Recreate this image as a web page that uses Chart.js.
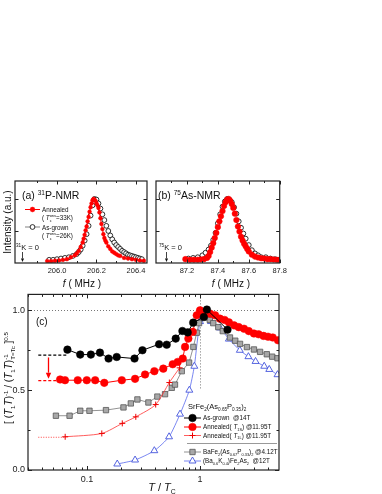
<!DOCTYPE html>
<html>
<head>
<meta charset="utf-8">
<script src="https://cdn.jsdelivr.net/npm/chart.js@4.4.0/dist/chart.umd.min.js"></script>
<style>
  html, body { margin: 0; padding: 0; background: #fff; }
  #wrap { position: relative; width: 382px; height: 494px; overflow: hidden; }
  canvas { position: absolute; }
</style>
</head>
<body>
<div id="wrap">
  <canvas id="pa" width="152" height="118" style="left:0;top:172px"></canvas>
  <canvas id="pb" width="140" height="118" style="left:150px;top:172px"></canvas>
  <canvas id="pc" width="382" height="208" style="left:0;top:286px"></canvas>
</div>
<script>
// ---- (a) 31P-NMR spectra ----
const pFreqAnn = [205.95,205.97,205.99,206.01,206.03,206.05,206.07,206.09,206.10,206.11,206.12,206.13,206.135,206.14,206.145,206.15,206.155,206.16,206.165,206.17,206.175,206.18,206.185,206.19,206.195,206.20,206.205,206.21,206.215,206.22,206.225,206.23,206.235,206.24,206.245,206.25,206.26,206.27,206.28,206.29,206.30,206.31,206.32,206.34,206.36,206.38,206.40,206.42,206.44];
const pIntAnn  = [0.03,0.03,0.035,0.04,0.05,0.06,0.09,0.12,0.15,0.19,0.25,0.32,0.38,0.44,0.51,0.57,0.65,0.72,0.80,0.87,0.93,0.98,1.0,0.99,0.97,0.93,0.90,0.86,0.79,0.70,0.61,0.53,0.45,0.39,0.35,0.32,0.26,0.22,0.18,0.16,0.14,0.12,0.11,0.08,0.07,0.06,0.05,0.04,0.035];
const pFreqGrown = [205.96,205.98,206.00,206.02,206.04,206.06,206.08,206.10,206.11,206.12,206.13,206.14,206.15,206.16,206.17,206.18,206.19,206.20,206.21,206.22,206.23,206.24,206.25,206.26,206.27,206.28,206.29,206.30,206.31,206.32,206.33,206.34,206.35,206.36,206.37,206.38,206.39,206.40,206.41,206.42,206.43];
const pIntGrown  = [0.05,0.05,0.06,0.07,0.08,0.09,0.11,0.14,0.17,0.21,0.27,0.35,0.45,0.58,0.74,0.90,1.0,0.99,0.93,0.85,0.76,0.67,0.58,0.50,0.43,0.37,0.32,0.28,0.25,0.22,0.19,0.17,0.15,0.13,0.12,0.11,0.10,0.09,0.08,0.07,0.06];
const pTicks = [206.0, 206.2, 206.4];
const pMinor = [205.9, 206.1, 206.3];
const pZeroShift = 205.82;

// ---- (b) 75As-NMR spectra ----
const asFreqAnn = [87.19,87.22,87.245,87.27,87.29,87.31,87.33,87.34,87.35,87.36,87.37,87.38,87.39,87.40,87.41,87.42,87.43,87.44,87.45,87.46,87.47,87.48,87.49,87.50,87.51,87.52,87.53,87.54,87.55,87.56,87.57,87.58,87.59,87.60,87.62,87.64,87.66,87.68,87.70,87.72,87.74,87.76,87.78,87.80];
const asIntAnn  = [0.06,0.05,0.05,0.05,0.055,0.06,0.08,0.11,0.17,0.24,0.31,0.39,0.47,0.56,0.65,0.73,0.81,0.89,0.95,0.99,1.0,0.97,0.92,0.86,0.77,0.67,0.57,0.49,0.41,0.35,0.30,0.26,0.22,0.18,0.13,0.10,0.085,0.075,0.07,0.06,0.06,0.055,0.05,0.05];
const asFreqGrown = [87.21,87.24,87.27,87.30,87.32,87.34,87.355,87.37,87.385,87.40,87.415,87.43,87.445,87.46,87.475,87.49,87.505,87.52,87.535,87.55,87.565,87.58,87.60,87.62,87.64,87.66,87.68,87.71,87.74,87.77,87.79];
const asIntGrown  = [0.07,0.08,0.09,0.12,0.16,0.21,0.27,0.36,0.47,0.62,0.76,0.88,0.96,1.0,0.99,0.95,0.87,0.77,0.65,0.55,0.46,0.38,0.28,0.20,0.15,0.12,0.09,0.09,0.07,0.06,0.05];
const asTicks = [87.2, 87.4, 87.6, 87.8];
const asMinor = [87.1, 87.3, 87.5, 87.7];
const asZeroShift = 87.065;

// ---- (c) [(T1T)^-1 / (T1T)^-1 at Tc]^0.5 vs T/Tc ----
const tGrown = [0.067,0.087,0.108,0.130,0.155,0.183,0.263,0.309,0.434,0.507,0.609,0.698,0.778,0.87,1.08,1.15,1.75];
const rGrown = [0.754,0.723,0.723,0.735,0.698,0.708,0.698,0.75,0.788,0.785,0.823,0.871,0.862,0.923,0.958,1.005,0.879];
const tAnnS = [0.0577,0.0638,0.0827,0.0994,0.118,0.142,0.203,0.266,0.326,0.394,0.473,0.573,0.634,0.703,0.737,0.788,0.862,0.935,1.0,1.06,1.13,1.23,1.36,1.5,1.65,1.8,2.0,2.2,2.45,2.7,3.0,3.3,3.65,4.0,4.4,4.9];
const rAnnS = [0.567,0.5625,0.5625,0.5625,0.5625,0.546,0.5625,0.571,0.598,0.619,0.635,0.6625,0.677,0.698,0.771,0.823,0.865,0.969,1.0,0.99,0.983,0.979,0.969,0.948,0.94,0.925,0.906,0.895,0.885,0.87,0.855,0.85,0.84,0.835,0.83,0.8125];
const tAnnL = [0.064,0.135,0.205,0.27,0.405,0.535,0.66];
const rAnnL = [0.208,0.229,0.292,0.333,0.41,0.548,0.64];
const tBaP = [0.053,0.070,0.087,0.105,0.147,0.21,0.244,0.279,0.349,0.419,0.49,0.562,0.60,0.689,0.80,0.873,0.935,0.98,1.1,1.22,1.31,1.45,1.59,1.84,2.05,2.26,2.6,3.0,3.4,3.9,4.35,4.85];
const rBaP = [0.34,0.34,0.371,0.371,0.375,0.392,0.417,0.442,0.423,0.46,0.475,0.515,0.535,0.619,0.673,0.771,0.86,0.92,0.955,0.94,0.92,0.895,0.87,0.83,0.81,0.79,0.77,0.755,0.74,0.725,0.71,0.70];
const tBaK = [0.185,0.266,0.394,0.532,0.665,0.804,0.89,1.0,1.1,1.25,1.5,1.8,2.25,2.68,3.1,3.7,4.1,4.85];
const rBaK = [0.0375,0.0625,0.121,0.208,0.35,0.5,0.65,0.93,0.955,0.93,0.89,0.82,0.75,0.71,0.68,0.65,0.63,0.597];
// low-T levels (dashed guides) and the drop arrow
const lvlGrownT = [0.037, 0.066], lvlGrownR = [0.72, 0.72];
const lvlAnnST = [0.037, 0.058], lvlAnnSR = [0.56, 0.56];
const lvlAnnLT = [0.037, 0.064], lvlAnnLR = [0.205, 0.205];
const arrowT = 0.0455, arrowR = [0.705, 0.572];
const cTicksX = [0.1, 1];
const cMinorX = [0.03,0.04,0.05,0.06,0.07,0.08,0.09,0.2,0.3,0.4,0.5,0.6,0.7,0.8,0.9,2,3,4];
const cTicksY = [0, 0.5, 1.0];
const cMinorY = [0.25, 0.75];

const FAM = '"Liberation Sans", Arial, Helvetica, sans-serif';
Chart.defaults.font.family = FAM;
Chart.defaults.color = '#111';

const zip = (xs, ys) => xs.map((x, i) => ({ x, y: ys[i] }));

// rich text: parts = [text, kind] kind: n normal, i italic, b sub, p sup, s stacked [sup, 's', sub]
function fontOf(kind, size) {
  const small = !(kind === 'n' || kind === 'i');
  const it = kind === 'i' || kind === 'ib' || kind === 'ip';
  return (it ? 'italic ' : '') + (small ? size * 0.62 : size).toFixed(2) + 'px ' + FAM;
}
function partWidth(ctx, p, size) {
  if (p[1] === 's') {
    ctx.font = fontOf('b', size);
    return Math.max(ctx.measureText(p[0]).width, ctx.measureText(p[2]).width);
  }
  ctx.font = fontOf(p[1], size);
  return ctx.measureText(p[0]).width;
}
function drawRich(ctx, parts, x, y, size, align) {
  let w = 0;
  parts.forEach(p => { w += partWidth(ctx, p, size); });
  let cx = align === 'center' ? x - w / 2 : x;
  ctx.textAlign = 'left';
  ctx.textBaseline = 'alphabetic';
  parts.forEach(p => {
    const k = p[1];
    const pw = partWidth(ctx, p, size);
    if (k === 's') {
      ctx.font = fontOf('b', size);
      ctx.fillText(p[0], cx, y - size * 0.4);
      ctx.fillText(p[2], cx, y + size * 0.28);
    } else {
      ctx.font = fontOf(k, size);
      const dy = (k === 'b' || k === 'ib') ? size * 0.25 : (k === 'p' || k === 'ip') ? -size * 0.4 : 0;
      ctx.fillText(p[0], cx, y + dy);
    }
    cx += pw;
  });
  return w;
}
function marker(ctx, style, x, y, r, fill, stroke, lw) {
  ctx.beginPath();
  if (style === 'circle') ctx.arc(x, y, r, 0, Math.PI * 2);
  else if (style === 'rect') { const s = r * Math.SQRT1_2; ctx.rect(x - s, y - s, 2 * s, 2 * s); }
  else if (style === 'triangle') { ctx.moveTo(x, y - r); ctx.lineTo(x + r * 0.866, y + r * 0.5); ctx.lineTo(x - r * 0.866, y + r * 0.5); ctx.closePath(); }
  else if (style === 'cross') { ctx.moveTo(x - r, y); ctx.lineTo(x + r, y); ctx.moveTo(x, y - r); ctx.lineTo(x, y + r); }
  if (style !== 'cross' && fill) { ctx.fillStyle = fill; ctx.fill(); }
  ctx.strokeStyle = stroke; ctx.lineWidth = lw; ctx.stroke();
}
function arrowDown(ctx, x, y0, y1, color, lw, head) {
  ctx.save();
  ctx.strokeStyle = color; ctx.fillStyle = color; ctx.lineWidth = lw;
  ctx.beginPath(); ctx.moveTo(x, y0); ctx.lineTo(x, y1 - head); ctx.stroke();
  ctx.beginPath(); ctx.moveTo(x - head * 0.45, y1 - head); ctx.lineTo(x + head * 0.45, y1 - head); ctx.lineTo(x, y1); ctx.closePath(); ctx.fill();
  ctx.restore();
}

// frame + inward ticks on all four sides
const frameTicks = {
  id: 'frameTicks',
  afterDatasetsDraw(chart, args, o) {
    const { ctx, chartArea: a } = chart;
    const sx = chart.scales.x, sy = chart.scales.y;
    ctx.save();
    ctx.strokeStyle = '#222';
    ctx.lineWidth = 1;
    ctx.beginPath();
    const tx = (vals, len) => vals.forEach(v => {
      const p = Math.round(sx.getPixelForValue(v)) + 0.5;
      ctx.moveTo(p, a.bottom); ctx.lineTo(p, a.bottom - len);
      ctx.moveTo(p, a.top); ctx.lineTo(p, a.top + len);
    });
    const ty = (vals, len) => vals.forEach(v => {
      const p = Math.round(sy.getPixelForValue(v)) + 0.5;
      ctx.moveTo(a.left, p); ctx.lineTo(a.left + len, p);
      ctx.moveTo(a.right, p); ctx.lineTo(a.right - len, p);
    });
    tx(o.xMajor, o.major); tx(o.xMinor, o.minor);
    ty(o.yMajor, o.major); ty(o.yMinor, o.minor);
    ctx.stroke();
    ctx.lineWidth = 1.2;
    ctx.strokeRect(a.left, a.top, a.width, a.height);
    ctx.restore();
  }
};

function specXScale(min, max, ticks) {
  return {
    type: 'linear', min, max, bounds: 'data',
    grid: { display: false, drawTicks: false }, border: { display: false },
    afterBuildTicks: s => { s.ticks = ticks.map(v => ({ value: v })); },
    afterFit: s => { s.height = 27; },
    ticks: { padding: 3, autoSkip: false, maxRotation: 0, color: '#222', font: { size: 7.5 }, callback: v => v.toFixed(1) }
  };
}

// ---------- panel (a) ----------
const annotA = {
  id: 'annotA',
  afterDraw(chart) {
    const { ctx } = chart;
    const sx = chart.scales.x;
    const ann = chart.data.datasets[0], gr = chart.data.datasets[1];
    ctx.save();
    ctx.fillStyle = '#111';
    drawRich(ctx, [['(a) ', 'n'], ['31', 'p'], ['P-NMR', 'n']], 22, 27, 10.5);
    // legend
    ctx.strokeStyle = ann.borderColor; ctx.lineWidth = 1;
    ctx.beginPath(); ctx.moveTo(25, 37.5); ctx.lineTo(40, 37.5); ctx.stroke();
    marker(ctx, 'circle', 32.5, 37.5, 2.4, ann.pointBackgroundColor, ann.pointBorderColor, 0.5);
    ctx.strokeStyle = '#000';
    ctx.beginPath(); ctx.moveTo(25, 55); ctx.lineTo(40, 55); ctx.stroke();
    marker(ctx, 'circle', 32.5, 55, 2.4, '#fff', gr.pointBorderColor, 0.8);
    ctx.fillStyle = '#111';
    drawRich(ctx, [['Annealed', 'n']], 42, 39.5, 6.3);
    drawRich(ctx, [['( ', 'n'], ['T', 'i'], ['ons', 's', 'c'], ['=33K)', 'n']], 42, 48, 6.3);
    drawRich(ctx, [['As-grown', 'n']], 42, 57.5, 6.3);
    drawRich(ctx, [['( ', 'n'], ['T', 'i'], ['ons', 's', 'c'], ['=26K)', 'n']], 42, 66, 6.3);
    // K = 0 marker
    drawRich(ctx, [['31', 'p'], ['K = 0', 'n']], 16, 78, 7.5);
    arrowDown(ctx, Math.round(sx.getPixelForValue(pZeroShift)) + 0.5, 80, 90, '#111', 0.8, 3.5);
    // axis titles
    drawRich(ctx, [['f', 'i'], [' ( MHz )', 'n']], 82, 115, 10, 'center');
    ctx.translate(10.5, 50);
    ctx.rotate(-Math.PI / 2);
    drawRich(ctx, [['Intensity (a.u.)', 'n']], 0, 0, 10, 'center');
    ctx.restore();
  }
};

new Chart(document.getElementById('pa'), {
  type: 'scatter',
  data: {
    datasets: [
      { label: 'Annealed', data: zip(pFreqAnn, pIntAnn), showLine: true, borderColor: '#f00', borderWidth: 1,
        pointStyle: 'circle', pointRadius: 1.9, pointBackgroundColor: '#f00', pointBorderColor: '#f00', pointBorderWidth: 0.5 },
      { label: 'As-grown', data: zip(pFreqGrown, pIntGrown), showLine: false,
        pointStyle: 'circle', pointRadius: 2.4, pointBackgroundColor: '#fff', pointBorderColor: '#000', pointBorderWidth: 0.8 }
    ]
  },
  options: {
    responsive: false, animation: false, events: [],
    layout: { padding: { left: 15, top: 9, right: 5, bottom: 0 } },
    plugins: { legend: { display: false }, tooltip: { enabled: false },
      frameTicks: { xMajor: pTicks, xMinor: pMinor, yMajor: [0.5, 1.0], yMinor: [], major: 3.5, minor: 2 } },
    scales: {
      x: specXScale(205.787, 206.456, pTicks),
      y: { display: false, min: 0, max: 1.28, bounds: 'data' }
    }
  },
  plugins: [frameTicks, annotA]
});

// ---------- panel (b) ----------
const annotB = {
  id: 'annotB',
  afterDraw(chart) {
    const { ctx } = chart;
    const sx = chart.scales.x;
    ctx.save();
    ctx.fillStyle = '#111';
    drawRich(ctx, [['(b) ', 'n'], ['75', 'p'], ['As-NMR', 'n']], 8, 27, 10.5);
    drawRich(ctx, [['75', 'p'], ['K = 0', 'n']], 9, 78, 7.5);
    arrowDown(ctx, Math.round(sx.getPixelForValue(asZeroShift)) + 0.5, 80, 90, '#111', 0.8, 3.5);
    drawRich(ctx, [['f', 'i'], [' ( MHz )', 'n']], 81, 115, 10, 'center');
    ctx.restore();
  }
};

new Chart(document.getElementById('pb'), {
  type: 'scatter',
  data: {
    datasets: [
      { label: 'Annealed', data: zip(asFreqAnn, asIntAnn), showLine: false,
        pointStyle: 'circle', pointRadius: 2.8, pointBackgroundColor: '#f00', pointBorderColor: '#f00', pointBorderWidth: 0.5 },
      { label: 'As-grown', data: zip(asFreqGrown, asIntGrown), showLine: false,
        pointStyle: 'circle', pointRadius: 2.4, pointBackgroundColor: '#fff', pointBorderColor: '#000', pointBorderWidth: 0.8 }
    ]
  },
  options: {
    responsive: false, animation: false, events: [],
    layout: { padding: { left: 6, top: 9, right: 10, bottom: 0 } },
    plugins: { legend: { display: false }, tooltip: { enabled: false },
      frameTicks: { xMajor: asTicks, xMinor: asMinor, yMajor: [0.5, 1.0], yMinor: [], major: 3.5, minor: 2 } },
    scales: {
      x: specXScale(87.0, 87.8, asTicks),
      y: { display: false, min: 0, max: 1.28, bounds: 'data' }
    }
  },
  plugins: [frameTicks, annotB]
});

// ---------- panel (c) ----------
const guidesC = {
  id: 'guidesC',
  beforeDatasetsDraw(chart) {
    const { ctx, chartArea: a } = chart;
    const sx = chart.scales.x, sy = chart.scales.y;
    ctx.save();
    ctx.strokeStyle = '#777'; ctx.lineWidth = 1; ctx.setLineDash([1, 2]);
    const y1 = Math.round(sy.getPixelForValue(1.0)) + 0.5;
    const x1 = Math.round(sx.getPixelForValue(1)) + 0.5;
    ctx.beginPath();
    ctx.moveTo(a.left, y1); ctx.lineTo(a.right, y1);
    ctx.moveTo(x1, a.top); ctx.lineTo(x1, sy.getPixelForValue(0.5));
    ctx.stroke();
    ctx.restore();
  }
};

const LEG_ITEMS = [
  { ds: 0, parts: [['As-grown  @14T', 'n']] },
  { ds: 1, parts: [['Annealed( ', 'n'], ['T', 'i'], ['1S', 'b'], [') @11.95T', 'n']] },
  { ds: 2, parts: [['Annealed( ', 'n'], ['T', 'i'], ['1L', 'b'], [') @11.95T', 'n']] },
  { ds: 3, parts: [['BaFe', 'n'], ['2', 'b'], ['(As', 'n'], ['0.67', 'b'], ['P', 'n'], ['0.33', 'b'], [')', 'n'], ['2', 'b'], [' @4.12T', 'n']] },
  { ds: 4, parts: [['(Ba', 'n'], ['0.6', 'b'], ['K', 'n'], ['0.4', 'b'], [')Fe', 'n'], ['2', 'b'], ['As', 'n'], ['2', 'b'], ['  @12T', 'n']] }
];
const LEG_Y = [132, 141, 149.5, 166, 175];

const annotC = {
  id: 'annotC',
  afterDraw(chart) {
    const { ctx } = chart;
    const sx = chart.scales.x, sy = chart.scales.y;
    ctx.save();
    // drop arrow
    arrowDown(ctx, Math.round(sx.getPixelForValue(arrowT)) + 0.5, sy.getPixelForValue(arrowR[0]), sy.getPixelForValue(arrowR[1]), '#f00', 1.3, 6);
    ctx.fillStyle = '#111';
    drawRich(ctx, [['(c)', 'n']], 36, 39, 10);
    // legend
    drawRich(ctx, [['SrFe', 'n'], ['2', 'b'], ['(As', 'n'], ['0.65', 'b'], ['P', 'n'], ['0.35', 'b'], [')', 'n'], ['2', 'b']], 188, 123, 7.5);
    LEG_ITEMS.forEach((it, i) => {
      const d = chart.data.datasets[it.ds];
      const y = LEG_Y[i];
      ctx.save();
      ctx.strokeStyle = d.borderColor; ctx.lineWidth = d.borderWidth;
      ctx.beginPath(); ctx.moveTo(184, y); ctx.lineTo(201, y); ctx.stroke();
      marker(ctx, d.pointStyle, 192.5, y, d.pointRadius, d.pointBackgroundColor, d.pointBorderColor, d.pointBorderWidth);
      ctx.restore();
      ctx.fillStyle = '#111';
      drawRich(ctx, it.parts, 203, y + 2.3, 6.3);
    });
    ctx.strokeStyle = '#999'; ctx.lineWidth = 1;
    ctx.beginPath(); ctx.moveTo(187, 157.5); ctx.lineTo(277, 157.5); ctx.stroke();
    // axis titles
    ctx.fillStyle = '#111';
    drawRich(ctx, [['T', 'i'], [' / ', 'n'], ['T', 'i'], ['C', 'b']], 162, 205, 11, 'center');
    ctx.translate(12, 92);
    ctx.rotate(-Math.PI / 2);
    drawRich(ctx, [['[ (', 'n'], ['T', 'i'], ['1', 'b'], ['T', 'i'], [')', 'n'], ['-1', 'p'], [' / (', 'n'], ['T', 'i'], ['1', 'b'], ['T', 'i'], [')', 'n'], ['-1', 's', 'T=Tc'], [' ]', 'n'], ['0.5', 'p']], 0, 0, 10, 'center');
    ctx.restore();
  }
};

new Chart(document.getElementById('pc'), {
  type: 'scatter',
  data: {
    datasets: [
      { label: 'As-grown @14T', data: zip(tGrown, rGrown), showLine: true, borderColor: '#000', borderWidth: 1,
        pointStyle: 'circle', pointRadius: 3.8, pointBackgroundColor: '#000', pointBorderColor: '#000', pointBorderWidth: 0.5 },
      { label: 'Annealed(T1S) @11.95T', data: zip(tAnnS, rAnnS), showLine: true, borderColor: '#f00', borderWidth: 1,
        pointStyle: 'circle', pointRadius: 3.8, pointBackgroundColor: '#f00', pointBorderColor: '#f00', pointBorderWidth: 0.5 },
      { label: 'Annealed(T1L) @11.95T', data: zip(tAnnL, rAnnL), showLine: true, borderColor: '#f33', borderWidth: 0.8, tension: 0.25,
        pointStyle: 'cross', pointRadius: 3, pointBackgroundColor: '#f00', pointBorderColor: '#e00', pointBorderWidth: 1 },
      { label: 'BaFe2(As0.67P0.33)2 @4.12T', data: zip(tBaP, rBaP), showLine: true, borderColor: '#777', borderWidth: 0.8,
        pointStyle: 'rect', pointRadius: 3.8, pointBackgroundColor: '#a8a8a8', pointBorderColor: '#555', pointBorderWidth: 0.8 },
      { label: '(Ba0.6K0.4)Fe2As2 @12T', data: zip(tBaK, rBaK), showLine: true, borderColor: '#5868ee', borderWidth: 0.8, tension: 0.2,
        pointStyle: 'triangle', pointRadius: 4, pointBackgroundColor: '#fff', pointBorderColor: '#4455dd', pointBorderWidth: 0.9 },
      { label: 'level as-grown', data: zip(lvlGrownT, lvlGrownR), showLine: true, borderColor: '#000', borderWidth: 1.2, borderDash: [3, 2], pointRadius: 0 },
      { label: 'level annealed S', data: zip(lvlAnnST, lvlAnnSR), showLine: true, borderColor: '#f00', borderWidth: 1.2, borderDash: [3, 2], pointRadius: 0 },
      { label: 'level annealed L', data: zip(lvlAnnLT, lvlAnnLR), showLine: true, borderColor: '#f44', borderWidth: 1, borderDash: [1, 1.5], pointRadius: 0 }
    ]
  },
  options: {
    responsive: false, animation: false, events: [],
    layout: { padding: { left: 0, top: 8, right: 103, bottom: 0 } },
    plugins: { legend: { display: false }, tooltip: { enabled: false },
      frameTicks: { xMajor: cTicksX, xMinor: cMinorX, yMajor: cTicksY, yMinor: cMinorY, major: 4, minor: 2.5 } },
    scales: {
      x: {
        type: 'logarithmic', min: 0.03, max: 5, bounds: 'data',
        grid: { display: false, drawTicks: false }, border: { display: false },
        afterBuildTicks: s => { s.ticks = cTicksX.map(v => ({ value: v })); },
        afterFit: s => { s.height = 24; },
        ticks: { padding: 4, autoSkip: false, maxRotation: 0, color: '#222', font: { size: 9 }, callback: v => String(v) }
      },
      y: {
        type: 'linear', min: 0, max: 1.1, bounds: 'data',
        grid: { display: false, drawTicks: false }, border: { display: false },
        afterBuildTicks: s => { s.ticks = cTicksY.map(v => ({ value: v })); },
        afterFit: s => { s.width = 28; },
        ticks: { padding: 3, autoSkip: false, color: '#222', font: { size: 9 }, callback: v => v.toFixed(1) }
      }
    }
  },
  plugins: [guidesC, frameTicks, annotC]
});
</script>
</body>
</html>
